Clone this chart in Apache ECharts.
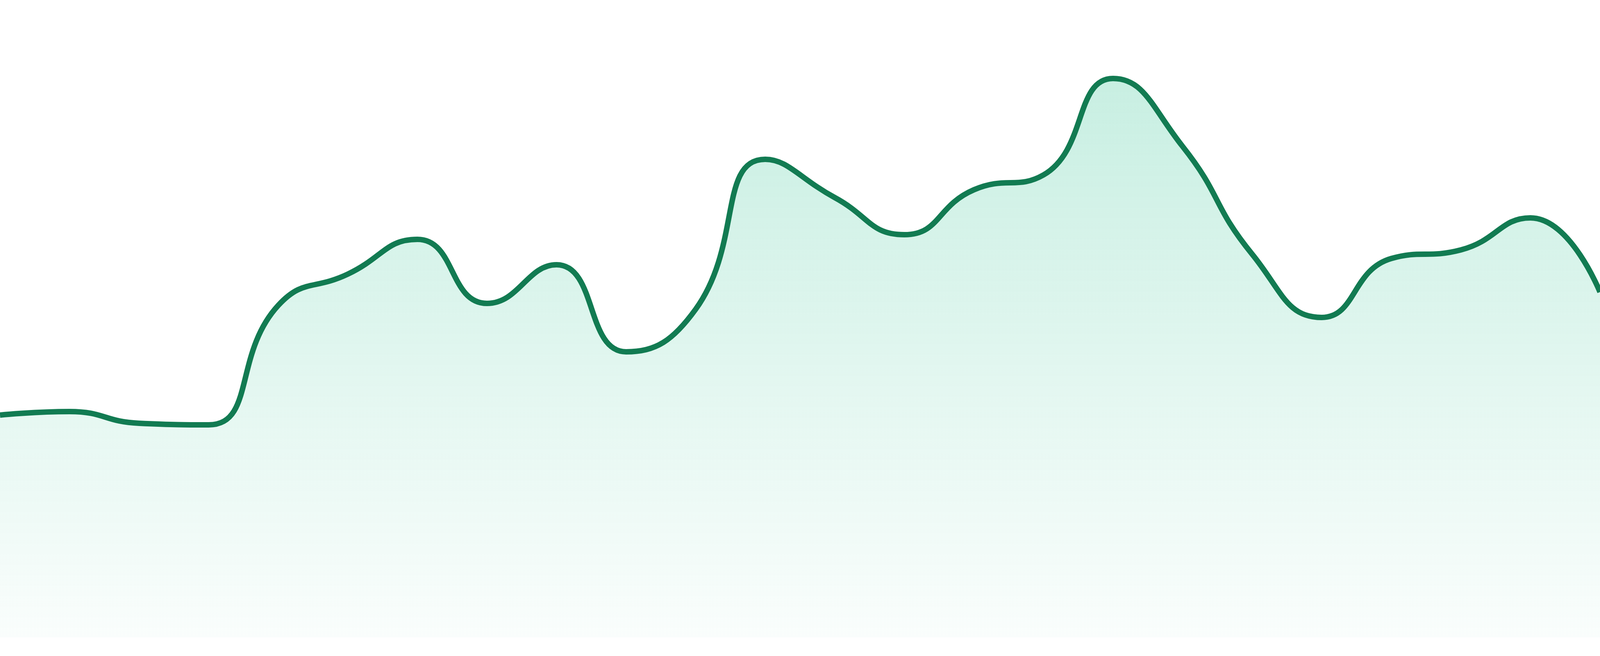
<!DOCTYPE html>
<html>
<head>
<meta charset="utf-8">
<title>area</title>
<script src="https://cdn.jsdelivr.net/npm/echarts@6/dist/echarts.min.js"></script>
<style>
  html, body { margin: 0; padding: 0; width: 100%; height: 100%; overflow: hidden; background: #fff; }
  #chart { width: 100vw; height: 100vh; }
</style>
</head>
<body>
<div id="chart"></div>
<script>
// categories: 24 evenly spaced points, no visible axis labels
const categories = ['1', '2', '3', '4', '5', '6', '7', '8', '9', '10', '11', '12',
  '13', '14', '15', '16', '17', '18', '19', '20', '21', '22', '23', '24'];

// values (height above the baseline)
const values = [569, 578, 548, 544, 850, 930, 1019, 855, 954, 731, 840, 1224,
  1126, 1031, 1146, 1184, 1431, 1257, 981, 819, 970, 992, 1074, 884];

const chart = echarts.init(document.getElementById('chart'));

chart.setOption({
  animation: false,
  grid: { left: 0, right: 0, top: 0, bottom: 48 },
  xAxis: {
    type: 'category',
    data: categories,
    boundaryGap: false,
    show: false
  },
  yAxis: {
    type: 'value',
    min: 0,
    max: 1632,
    show: false
  },
  series: [
    {
      type: 'line',
      data: values,
      smooth: 0.5,
      symbol: 'none',
      lineStyle: { color: '#127b52', width: 14 },
      areaStyle: {
        color: new echarts.graphic.LinearGradient(0, 0, 0, 1, [
          { offset: 0, color: 'rgba(16,185,129,0.33)' },
          { offset: 1, color: 'rgba(16,185,129,0.03)' }
        ])
      }
    }
  ]
});
window.addEventListener('resize', () => chart.resize());
</script>
</body>
</html>
